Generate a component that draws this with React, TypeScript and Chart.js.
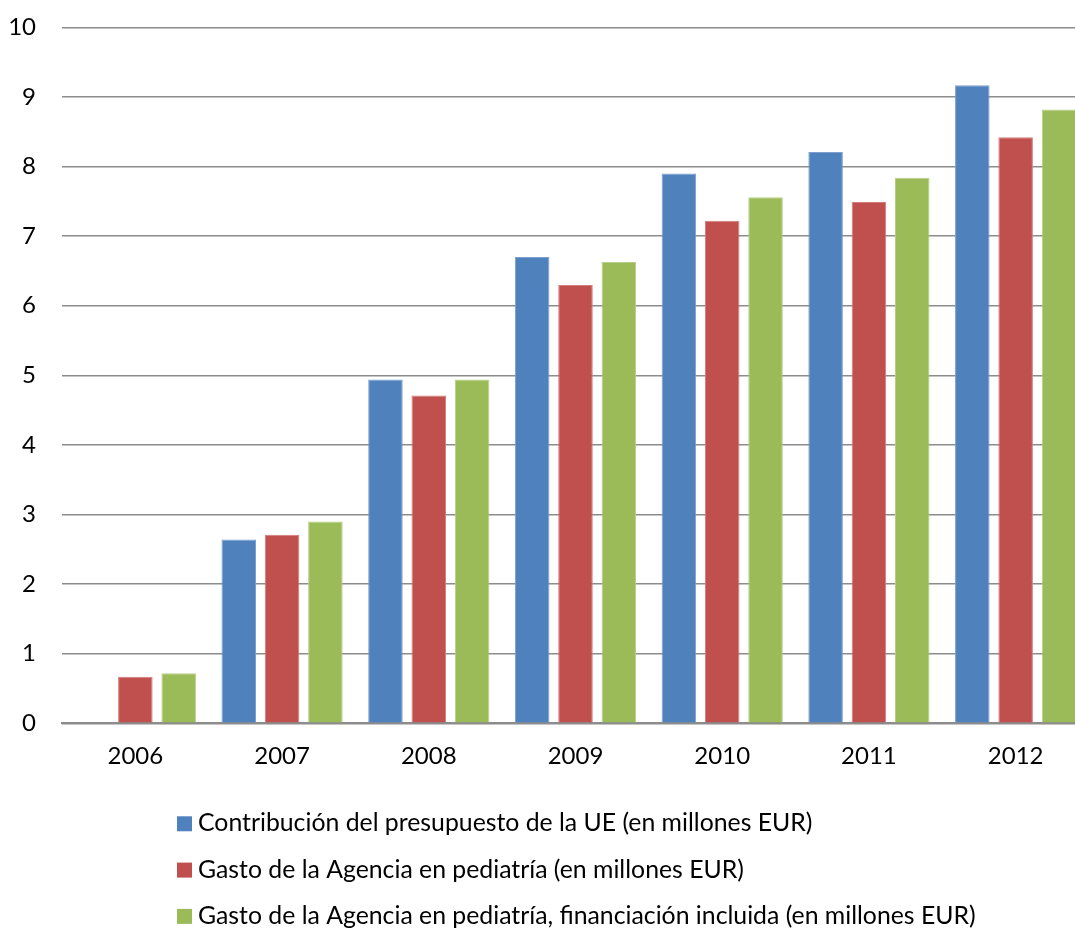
import React, { useEffect, useRef } from "react";
import { Chart, registerables } from "chart.js";

Chart.register(...registerables);

const categories = ["2006", "2007", "2008", "2009", "2010", "2011", "2012"];
const contribucionUE = [null, 2.64, 4.94, 6.7, 7.9, 8.21, 9.17];
const gastoPediatria = [0.67, 2.71, 4.71, 6.3, 7.22, 7.49, 8.42];
const gastoFinanciacion = [0.72, 2.9, 4.94, 6.63, 7.56, 7.84, 8.82];
const seriesLabels = [
  "Contribución del presupuesto de la UE (en millones EUR)",
  "Gasto de la Agencia en pediatría (en millones EUR)",
  "Gasto de la Agencia en pediatría, financiación incluida (en millones EUR)",
];
const seriesColors = ["#4F81BD", "#C0504D", "#9BBB59"];
const seriesBorders = ["#7A9FD0", "#D47C79", "#B6CF86"];

const FONT = "Lato, 'Open Sans', sans-serif";

const legendPlugin = {
  id: "customLegend",
  afterDraw(chart: any) {
    const ctx = chart.ctx;
    const datasets = chart.data.datasets;
    ctx.save();
    ctx.font = `24.8px ${FONT}`;
    ctx.textBaseline = "middle";
    ctx.textAlign = "left";
    const x0 = 177;
    const yStart = chart.chartArea.bottom + 100;
    const step = 46.3;
    datasets.forEach((ds: any, i: number) => {
      const yc = yStart + i * step;
      ctx.fillStyle = ds.backgroundColor;
      ctx.fillRect(x0, yc - 7, 15, 15);
      ctx.fillStyle = "#000";
      ctx.fillText(ds.label, x0 + 21, yc);
    });
    ctx.restore();
  },
};

export default function App() {
  const ref = useRef<HTMLCanvasElement | null>(null);
  useEffect(() => {
    if (!ref.current) return;
    const chart = new Chart(ref.current, {
      type: "bar",
      data: {
        labels: categories,
        datasets: [contribucionUE, gastoPediatria, gastoFinanciacion].map((d, i) => ({
          label: seriesLabels[i],
          data: d as any,
          backgroundColor: seriesColors[i],
          borderColor: seriesBorders[i],
          borderWidth: 1,
          categoryPercentage: 0.886,
          barPercentage: 0.797,
        })),
      },
      options: {
        responsive: false,
        animation: false,
        layout: { padding: { left: 0, top: 14, right: 11, bottom: 144.7 } },
        plugins: {
          legend: { display: false },
          tooltip: { enabled: false },
        },
        scales: {
          x: {
            grid: { display: false, drawTicks: false },
            border: { display: true, color: "#8c8c8c", width: 2 },
            ticks: { color: "#000", font: { family: FONT, size: 24 }, padding: 19 },
            afterFit(scale: any) {
              scale.height = 60;
            },
          },
          y: {
            min: 0,
            max: 10,
            ticks: { stepSize: 1, color: "#000", font: { family: FONT, size: 24 }, padding: 26 },
            grid: { color: "#8c8c8c", lineWidth: 1.5, drawTicks: false },
            border: { display: false },
            afterFit(scale: any) {
              scale.width = 62;
            },
          },
        },
      },
      plugins: [legendPlugin],
    });
    return () => chart.destroy();
  }, []);
  return (
    <div style={{ position: "fixed", left: 0, top: 0, width: 1075, height: 928, overflow: "hidden", background: "#fff" }}>
      <canvas ref={ref} width={1100} height={941} style={{ width: 1100, height: 941, display: "block", marginTop: -13 }} />
    </div>
  );
}
